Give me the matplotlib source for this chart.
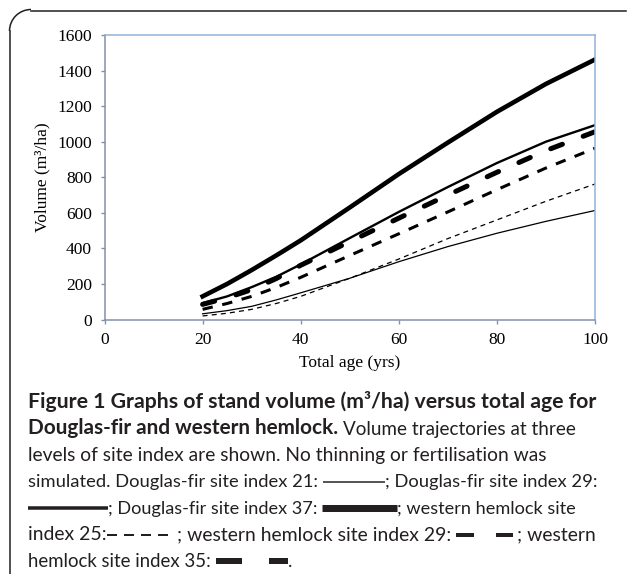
import matplotlib
matplotlib.use("Agg")
import matplotlib.pyplot as plt
from matplotlib.lines import Line2D
from matplotlib.patches import Arc
from matplotlib.transforms import IdentityTransform

# values
age = [20, 25, 30, 35, 40, 50, 60, 70, 80, 90, 100]
df_si21 = [32, 50, 74, 110, 150, 232, 325, 410, 485, 552, 613]
df_si29 = [92, 130, 182, 240, 310, 458, 605, 745, 880, 1000, 1093]
df_si37 = [130, 200, 278, 360, 445, 630, 818, 995, 1168, 1325, 1462]
wh_si25 = [20, 35, 57, 90, 130, 232, 340, 455, 560, 665, 762]
wh_si29 = [57, 90, 130, 180, 237, 360, 482, 605, 730, 852, 963]
wh_si35 = [85, 122, 168, 230, 305, 438, 570, 700, 828, 950, 1056]

x_ticks = [0, 20, 40, 60, 80, 100]
y_ticks = [0, 200, 400, 600, 800, 1000, 1200, 1400, 1600]

W, H = 627, 574
plt.rcParams['lines.scale_dashes'] = False

fig = plt.figure(figsize=(W / 100, H / 100), dpi=100)
ax = fig.add_axes([104.5 / W, 1 - 319.5 / H, (595 - 104.5) / W, (319.5 - 35) / H])

ax.plot(age, df_si21, color='black', lw=0.9)
ax.plot(age, df_si29, color='black', lw=1.7)
ax.plot(age, df_si37, color='black', lw=3.3)
ax.plot(age, wh_si25, color='black', lw=0.9, dashes=(3.6, 3.0))
ax.plot(age, wh_si29, color='black', lw=2.2, dashes=(7.5, 7.0))
ax.plot(age, wh_si35, color='black', lw=3.6, dashes=(9, 16), dash_capstyle='round')

ax.set_xlim(0, 100)
ax.set_ylim(0, 1600)
ax.set_xticks(x_ticks)
ax.set_yticks(y_ticks)
serif = 'Liberation Serif'
ax.set_xticklabels([str(v) for v in x_ticks], fontfamily=serif, fontsize=12.5)
ax.set_yticklabels([str(v) for v in y_ticks], fontfamily=serif, fontsize=12.5)
ax.set_xlabel('Total age (yrs)', fontfamily=serif, fontsize=12.5, labelpad=5)
ax.set_ylabel('Volume (m\u00b3/ha)', fontfamily=serif, fontsize=12.5, labelpad=5)
ax.tick_params(direction='out', length=3, width=1, color='#8392a8', pad=6)

for side in ['left', 'bottom']:
    ax.spines[side].set_color('#8392a8')
    ax.spines[side].set_linewidth(1.1)
for side in ['top', 'right']:
    ax.spines[side].set_color('#95b3d7')
    ax.spines[side].set_linewidth(1.1)

# frame around figure + caption
ink = '#231f20'
px = IdentityTransform()
fig.add_artist(Line2D([31, 626], [H - 10.5, H - 10.5], transform=px, color=ink, lw=1.1))
fig.add_artist(Line2D([9.5, 9.5], [H - 31, 0], transform=px, color=ink, lw=1.1))
fig.add_artist(Arc((31, H - 31), 43, 43, theta1=90, theta2=180, transform=px, color=ink, lw=1.1))

# caption, laid out piece by piece so the line keys can sit inline
renderer = fig.canvas.get_renderer()
cap_font = 'Lato'
sizes = {'bold': 15.0, 'normal': 13.6}
x0 = 28


def text_width(s, weight, size):
    t = fig.text(0, 0, s, fontfamily=cap_font, fontsize=size, fontweight=weight)
    w = t.get_window_extent(renderer).width
    t.remove()
    return w


def caption_line(y_mid, parts, x_end):
    # squeeze/stretch the font a little so each line ends where the reference does
    fixed = sum(p[1] for p in parts if p[0] != 't')
    natural = sum(text_width(p[1], p[2], sizes[p[2]]) for p in parts if p[0] == 't')
    k = (x_end - x0 - fixed) / natural
    x = x0
    base = H - y_mid - 6
    for p in parts:
        if p[0] == 'gap':
            x += p[1]
        elif p[0] == 't':
            t = fig.text(x / W, base / H, p[1], fontfamily=cap_font, fontsize=sizes[p[2]] * k,
                         fontweight=p[2], color=ink, va='baseline', ha='left')
            x += t.get_window_extent(renderer).width
        else:
            length, lw, dash = p[1], p[2], p[3]
            ln = Line2D([x, x + length], [H - y_mid, H - y_mid], transform=px,
                        color=ink, lw=lw * 0.72, solid_capstyle='butt', dash_capstyle='butt')
            if dash:
                ln.set_dashes([d * 0.72 for d in dash])
            fig.add_artist(ln)
            x += length


caption_line(402, [('t', 'Figure 1 Graphs of stand volume (m\u00b3/ha) versus total age for', 'bold')], 598)
caption_line(428.5, [('t', 'Douglas-fir and western hemlock.', 'bold'), ('gap', 5),
                     ('t', 'Volume trajectories at three', 'normal')], 578)
caption_line(455, [('t', 'levels of site index are shown. No thinning or fertilisation was', 'normal')], 549)
caption_line(481.5, [('t', 'simulated. Douglas-fir site index 21:', 'normal'), ('gap', 5),
                     ('line', 62, 1.5, None),
                     ('t', '; Douglas-fir site index 29:', 'normal')], 597)
caption_line(508, [('line', 80, 3.5, None),
                   ('t', '; Douglas-fir site index 37:', 'normal'), ('gap', 5),
                   ('line', 75, 7, None),
                   ('t', '; western hemlock site', 'normal')], 578)
caption_line(534.5, [('t', 'index 25:', 'normal'),
                     ('line', 66, 2, (10, 7)), ('gap', 4),
                     ('t', '; western hemlock site index 29:', 'normal'), ('gap', 5),
                     ('line', 57, 4, (18, 22)), ('gap', 4),
                     ('t', '; western', 'normal')], 598)
caption_line(561, [('t', 'hemlock site index 35:', 'normal'), ('gap', 5),
                   ('line', 72, 6, (26, 27)),
                   ('t', '.', 'normal')], 293)

fig.savefig('out.png', dpi=100)
